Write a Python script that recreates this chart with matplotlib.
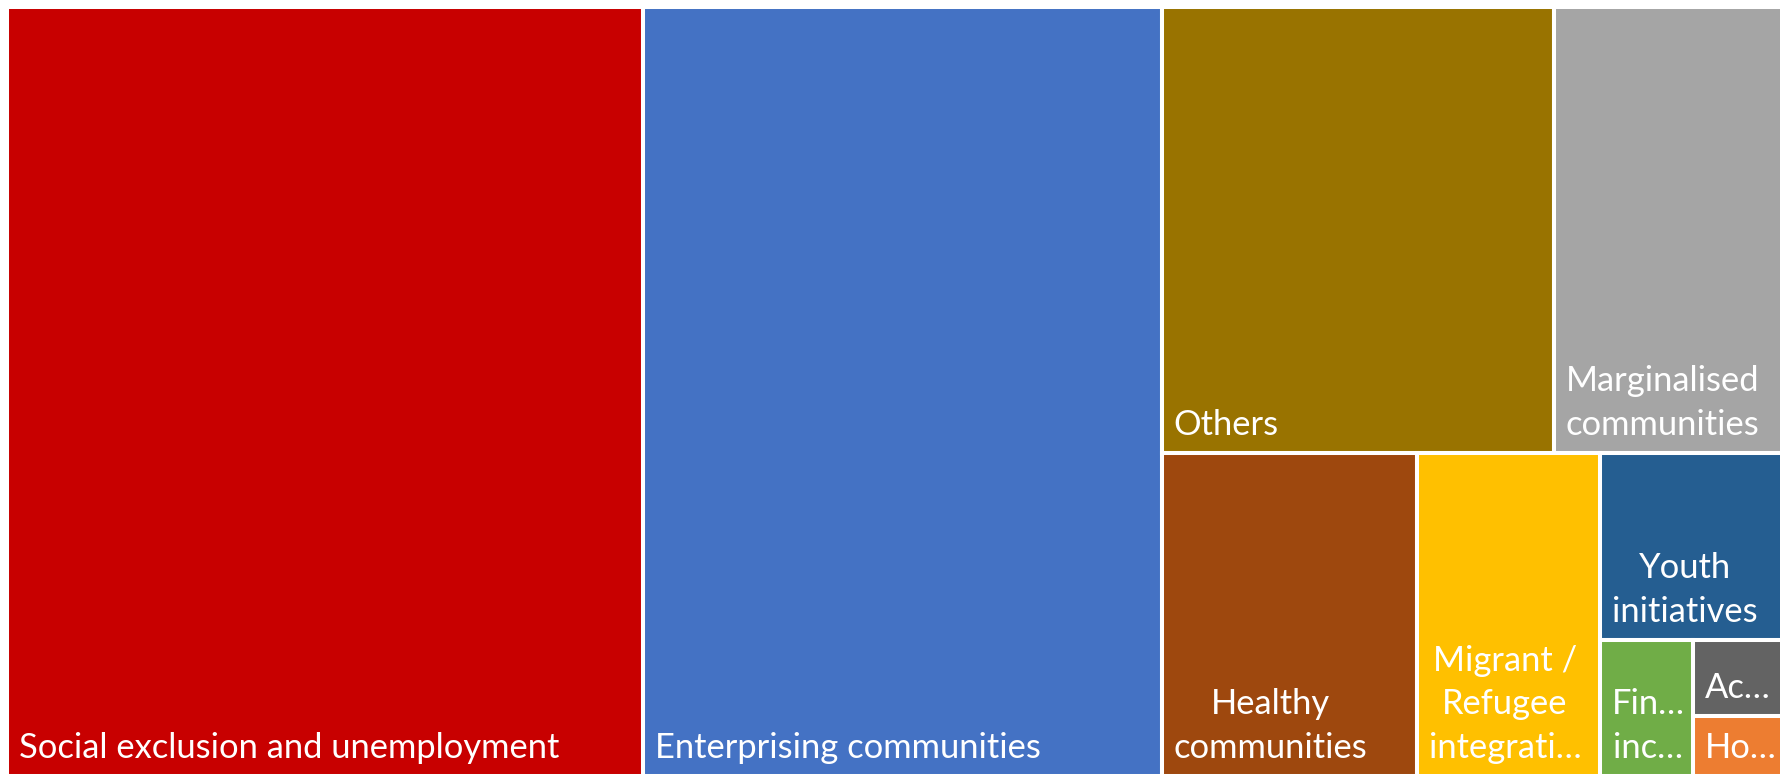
import matplotlib.pyplot as plt
from matplotlib.patches import Rectangle

# category values
categories = [
    'Social exclusion and unemployment',
    'Enterprising communities',
    'Others',
    'Marginalised communities',
    'Healthy communities',
    'Migrant / Refugee integration',
    'Youth initiatives',
    'Financial inclusion',
    'Access',
    'Housing',
]
values = [487.0, 397.7, 174.0, 101.8, 82.1, 59.0, 34.1, 12.7, 6.8, 5.4]
labels = [
    'Social exclusion and unemployment',
    'Enterprising communities',
    'Others',
    'Marginalised\ncommunities',
    'Healthy\ncommunities',
    'Migrant /\nRefugee\nintegrati\u2026',
    'Youth\ninitiatives',
    'Fin\u2026\ninc\u2026',
    'Ac\u2026',
    'Ho\u2026',
]
colors = ['#C80000', '#4472C4', '#997300', '#A5A5A5', '#9E480E',
          '#FFC000', '#255E91', '#70AD47', '#636363', '#ED7D31']


def worst(row, length):
    s = sum(row)
    side = s / length
    return max(max(side / (r / side), (r / side) / side) for r in row)


def squarify(vals, x, y, w, h):
    total = sum(vals)
    areas = [v * w * h / total for v in vals]
    rects = []
    i = 0
    while i < len(areas):
        length = min(w, h)
        row = [areas[i]]
        j = i + 1
        while j < len(areas) and worst(row + [areas[j]], length) <= worst(row, length):
            row.append(areas[j])
            j += 1
        thick = sum(row) / length
        pos = 0
        for a in row:
            span = a / thick
            if w >= h:
                # column on the left
                rects.append((x, y + pos, thick, span))
            else:
                # row along the top
                rects.append((x + pos, y, span, thick))
            pos += span
        if w >= h:
            x += thick
            w -= thick
        else:
            y += thick
            h -= thick
        i = j
    return rects


fig = plt.figure(figsize=(17.81, 7.74), dpi=100)
ax = fig.add_axes([0, 0, 1, 1])
ax.set_xlim(0, 1781)
ax.set_ylim(774, 0)
ax.axis('off')

rects = squarify(values, 7, 7, 1776, 769)
for (rx, ry, rw, rh), lab, col in zip(rects, labels, colors):
    ax.add_patch(Rectangle((rx, ry), rw, rh, facecolor=col,
                           edgecolor='white', linewidth=2.9))
    ax.text(rx + 12, ry + rh - 12, lab, color='white', fontsize=24.8,
            family='Lato', ha='left', va='bottom', multialignment='center',
            linespacing=1.45)

fig.savefig('out.png', dpi=100)
